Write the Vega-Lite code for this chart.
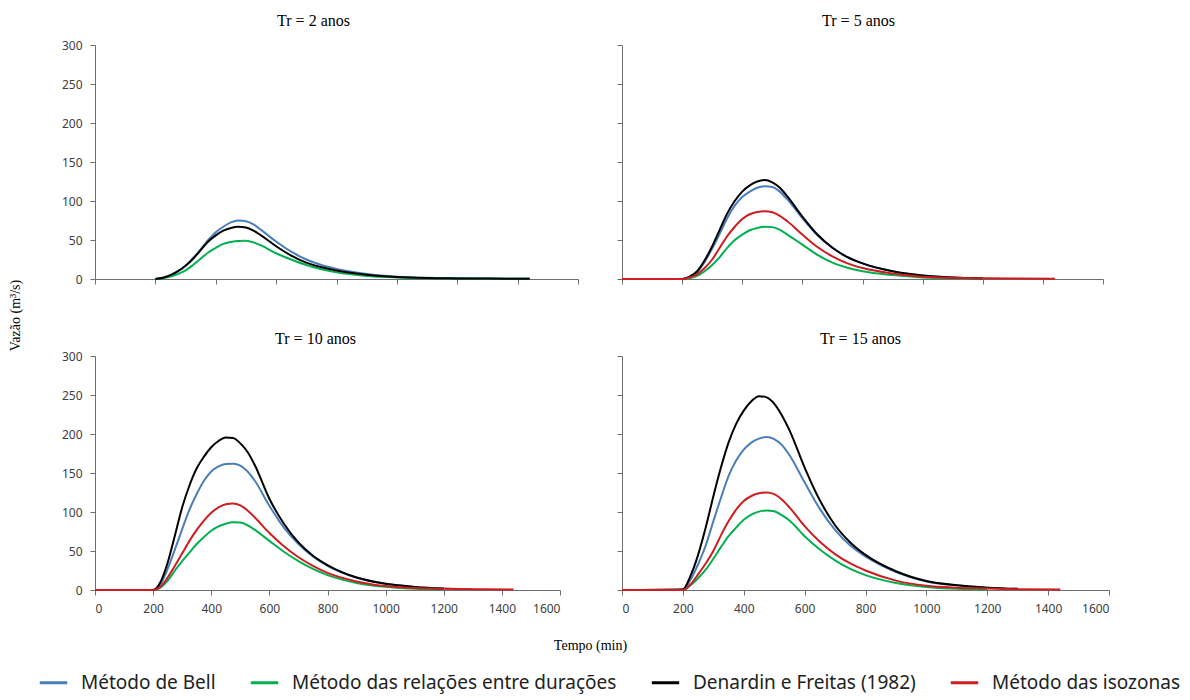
{
  "$schema": "https://vega.github.io/schema/vega-lite/v6.json",
  "background": "white",
  "padding": {"left": 8, "top": 12, "right": 2, "bottom": 5},
  "bounds": "flush",
  "columns": 2,
  "spacing": {"row": 77, "column": 44},
  "config": {
    "view": {"stroke": null},
    "axis": {"grid": false, "domainColor": "#6f6f6f", "tickColor": "#6f6f6f", "labelFont": "Noto Sans", "labelFontSize": 12, "labelColor": "#404040", "titleFont": "Liberation Serif", "titleFontSize": 14, "titleFontWeight": 400, "titleColor": "#000000", "tickSize": 5, "labelPadding": 8, "format": "d"},
    "title": {"font": "Liberation Serif", "fontSize": 16, "fontWeight": 400, "color": "#000000", "offset": 11},
    "legend": {"orient": "none", "legendX": -57, "legendY": 622, "direction": "horizontal", "symbolType": "stroke", "symbolStrokeWidth": 3, "symbolSize": 750, "labelFont": "Noto Sans", "labelFontSize": 19, "labelColor": "#222222", "labelLimit": 0, "labelOffset": 12, "columnPadding": 28}
  },
  "datasets": {
    "d": [
      {"tr":2,"t":200,"bell":0,"rel":0,"den":0,"iso":null},
      {"tr":2,"t":225,"bell":1.5,"rel":1,"den":1.5,"iso":null},
      {"tr":2,"t":250,"bell":5,"rel":3,"den":5,"iso":null},
      {"tr":2,"t":275,"bell":10,"rel":6.5,"den":10,"iso":null},
      {"tr":2,"t":300,"bell":17,"rel":11,"den":17,"iso":null},
      {"tr":2,"t":325,"bell":27,"rel":18,"den":26,"iso":null},
      {"tr":2,"t":350,"bell":38,"rel":26,"den":37,"iso":null},
      {"tr":2,"t":375,"bell":50,"rel":34,"den":48,"iso":null},
      {"tr":2,"t":400,"bell":60,"rel":40,"den":56,"iso":null},
      {"tr":2,"t":425,"bell":67,"rel":45,"den":62,"iso":null},
      {"tr":2,"t":450,"bell":72.5,"rel":47.5,"den":65.5,"iso":null},
      {"tr":2,"t":475,"bell":75,"rel":48.8,"den":67,"iso":null},
      {"tr":2,"t":500,"bell":74,"rel":49,"den":66,"iso":null},
      {"tr":2,"t":525,"bell":70,"rel":47,"den":62,"iso":null},
      {"tr":2,"t":550,"bell":63,"rel":43,"den":56,"iso":null},
      {"tr":2,"t":600,"bell":48,"rel":33,"den":42,"iso":null},
      {"tr":2,"t":650,"bell":35,"rel":25,"den":30,"iso":null},
      {"tr":2,"t":700,"bell":25,"rel":18,"den":21,"iso":null},
      {"tr":2,"t":750,"bell":18,"rel":12.5,"den":15,"iso":null},
      {"tr":2,"t":800,"bell":13,"rel":8.5,"den":11,"iso":null},
      {"tr":2,"t":900,"bell":6.5,"rel":4,"den":5.5,"iso":null},
      {"tr":2,"t":1000,"bell":3,"rel":2,"den":2.5,"iso":null},
      {"tr":2,"t":1100,"bell":1.5,"rel":1,"den":1.2,"iso":null},
      {"tr":2,"t":1200,"bell":1,"rel":0.6,"den":0.8,"iso":null},
      {"tr":2,"t":1300,"bell":0.6,"rel":0.3,"den":0.5,"iso":null},
      {"tr":2,"t":1440,"bell":0.4,"rel":0.2,"den":0.3,"iso":null},

      {"tr":5,"t":0,"bell":0,"rel":0,"den":0,"iso":0},
      {"tr":5,"t":200,"bell":0,"rel":0,"den":0,"iso":0},
      {"tr":5,"t":225,"bell":3,"rel":1,"den":3,"iso":2},
      {"tr":5,"t":250,"bell":9,"rel":4,"den":10,"iso":6},
      {"tr":5,"t":275,"bell":22,"rel":10,"den":24,"iso":14},
      {"tr":5,"t":300,"bell":39,"rel":18,"den":42,"iso":25},
      {"tr":5,"t":325,"bell":58,"rel":28,"den":63,"iso":40},
      {"tr":5,"t":350,"bell":78,"rel":40,"den":84,"iso":55},
      {"tr":5,"t":375,"bell":94,"rel":50,"den":100,"iso":67},
      {"tr":5,"t":400,"bell":105,"rel":57,"den":112,"iso":77},
      {"tr":5,"t":425,"bell":112,"rel":62.5,"den":120,"iso":83},
      {"tr":5,"t":450,"bell":117,"rel":65.5,"den":125,"iso":86},
      {"tr":5,"t":475,"bell":119,"rel":67,"den":127,"iso":87},
      {"tr":5,"t":500,"bell":118,"rel":66.5,"den":124,"iso":85.5},
      {"tr":5,"t":525,"bell":112,"rel":63,"den":117,"iso":81},
      {"tr":5,"t":550,"bell":102,"rel":57,"den":106,"iso":74},
      {"tr":5,"t":600,"bell":78,"rel":44,"den":80,"iso":57},
      {"tr":5,"t":650,"bell":56,"rel":31,"den":57,"iso":41},
      {"tr":5,"t":700,"bell":40,"rel":21,"den":40,"iso":29},
      {"tr":5,"t":750,"bell":28,"rel":14.5,"den":28,"iso":20},
      {"tr":5,"t":800,"bell":20,"rel":10,"den":20,"iso":14},
      {"tr":5,"t":900,"bell":10,"rel":5,"den":10,"iso":7},
      {"tr":5,"t":1000,"bell":4.5,"rel":2,"den":4.5,"iso":3},
      {"tr":5,"t":1100,"bell":2,"rel":1,"den":2,"iso":1.5},
      {"tr":5,"t":1200,"bell":1,"rel":0.5,"den":1,"iso":1},
      {"tr":5,"t":1300,"bell":null,"rel":null,"den":null,"iso":0.6},
      {"tr":5,"t":1440,"bell":null,"rel":null,"den":null,"iso":0.4},

      {"tr":10,"t":0,"bell":0,"rel":0,"den":0,"iso":0},
      {"tr":10,"t":200,"bell":0,"rel":0,"den":0,"iso":0},
      {"tr":10,"t":225,"bell":7,"rel":3,"den":10,"iso":4},
      {"tr":10,"t":250,"bell":27,"rel":12,"den":35,"iso":16},
      {"tr":10,"t":275,"bell":52,"rel":25,"den":70,"iso":31},
      {"tr":10,"t":300,"bell":78,"rel":37,"den":106,"iso":47},
      {"tr":10,"t":325,"bell":103,"rel":48,"den":134,"iso":63},
      {"tr":10,"t":350,"bell":123,"rel":59,"den":156,"iso":77},
      {"tr":10,"t":375,"bell":140,"rel":68,"den":171,"iso":89},
      {"tr":10,"t":400,"bell":152,"rel":76,"den":183,"iso":99},
      {"tr":10,"t":425,"bell":158.5,"rel":81.5,"den":191,"iso":106},
      {"tr":10,"t":450,"bell":161.5,"rel":85,"den":195.5,"iso":110},
      {"tr":10,"t":475,"bell":162,"rel":87,"den":195,"iso":111},
      {"tr":10,"t":500,"bell":159.5,"rel":86.5,"den":188,"iso":108.5},
      {"tr":10,"t":525,"bell":152,"rel":83,"den":177,"iso":102},
      {"tr":10,"t":550,"bell":140,"rel":77,"den":160,"iso":93},
      {"tr":10,"t":600,"bell":108,"rel":63,"den":117,"iso":73},
      {"tr":10,"t":650,"bell":80,"rel":49,"den":85,"iso":56},
      {"tr":10,"t":700,"bell":59,"rel":37,"den":61,"iso":42},
      {"tr":10,"t":750,"bell":43,"rel":27,"den":44,"iso":31},
      {"tr":10,"t":800,"bell":31,"rel":19,"den":32,"iso":22},
      {"tr":10,"t":900,"bell":16,"rel":9,"den":16,"iso":11},
      {"tr":10,"t":1000,"bell":8,"rel":4,"den":8,"iso":5},
      {"tr":10,"t":1100,"bell":4,"rel":1.5,"den":4,"iso":2.5},
      {"tr":10,"t":1200,"bell":2,"rel":0.8,"den":2,"iso":1.5},
      {"tr":10,"t":1300,"bell":1,"rel":null,"den":null,"iso":1},
      {"tr":10,"t":1440,"bell":null,"rel":null,"den":null,"iso":0.5},

      {"tr":15,"t":0,"bell":0,"rel":0,"den":0,"iso":0},
      {"tr":15,"t":200,"bell":0,"rel":0,"den":1,"iso":0},
      {"tr":15,"t":225,"bell":13,"rel":6,"den":18,"iso":7},
      {"tr":15,"t":250,"bell":33,"rel":15,"den":45,"iso":20},
      {"tr":15,"t":275,"bell":57,"rel":26,"den":80,"iso":34},
      {"tr":15,"t":300,"bell":88,"rel":40,"den":120,"iso":50},
      {"tr":15,"t":325,"bell":118,"rel":55,"den":157,"iso":70},
      {"tr":15,"t":350,"bell":146,"rel":69,"den":189,"iso":88},
      {"tr":15,"t":375,"bell":166,"rel":80,"den":213,"iso":103},
      {"tr":15,"t":400,"bell":180,"rel":90,"den":230,"iso":114},
      {"tr":15,"t":425,"bell":189,"rel":96.5,"den":242,"iso":120.5},
      {"tr":15,"t":450,"bell":194,"rel":100.5,"den":248.5,"iso":124},
      {"tr":15,"t":475,"bell":196,"rel":102,"den":247,"iso":125},
      {"tr":15,"t":500,"bell":193.5,"rel":101,"den":239,"iso":123},
      {"tr":15,"t":525,"bell":186,"rel":96,"den":224,"iso":116},
      {"tr":15,"t":550,"bell":173,"rel":89,"den":205,"iso":106},
      {"tr":15,"t":600,"bell":138,"rel":69,"den":157,"iso":82},
      {"tr":15,"t":650,"bell":104,"rel":52,"den":115,"iso":62},
      {"tr":15,"t":700,"bell":77,"rel":38,"den":83,"iso":46},
      {"tr":15,"t":750,"bell":57,"rel":27,"den":61,"iso":34},
      {"tr":15,"t":800,"bell":43,"rel":19,"den":45,"iso":25},
      {"tr":15,"t":900,"bell":23,"rel":9,"den":24,"iso":12},
      {"tr":15,"t":1000,"bell":11,"rel":4,"den":11.5,"iso":5.5},
      {"tr":15,"t":1100,"bell":6,"rel":1.5,"den":6,"iso":3},
      {"tr":15,"t":1200,"bell":3,"rel":0.8,"den":3,"iso":2},
      {"tr":15,"t":1300,"bell":1.5,"rel":null,"den":1.5,"iso":1},
      {"tr":15,"t":1440,"bell":null,"rel":null,"den":null,"iso":0.5}
    ],
    "methods": [
      {"key":"bell","name":"Método de Bell"},
      {"key":"rel","name":"Método das relações entre durações"},
      {"key":"den","name":"Denardin e Freitas (1982)"},
      {"key":"iso","name":"Método das isozonas"}
    ]
  },
  "data": {"name": "d"},
  "transform": [
    {"fold": ["bell", "rel", "den", "iso"], "as": ["key", "value"]},
    {"filter": "datum.value != null"},
    {"lookup": "key", "from": {"data": {"name": "methods"}, "key": "key", "fields": ["name"]}}
  ],
  "concat": [
    {
      "width": 483, "height": 234,
      "title": {"text": "Tr = 2 anos", "dx": -23, "offset": 10, "fontWeight": 400},
      "transform": [{"filter": "datum.tr == 2"}],
      "mark": {"type": "line", "interpolate": "monotone", "strokeWidth": 2},
      "encoding": {
        "x": {"field": "t", "type": "quantitative", "scale": {"domain": [0, 1600]}, "axis": {"values": [0,200,400,600,800,1000,1200,1400,1600], "labels": false, "title": null}},
        "y": {"field": "value", "type": "quantitative", "scale": {"domain": [0, 300]}, "axis": {"values": [0,50,100,150,200,250,300], "title": "Vazão (m³/s)", "titleFontWeight": 400, "titleX": -80, "titleY": 270, "titleAngle": -90, "titleAlign": "center", "titleBaseline": "middle"}},
        "color": {"field": "name", "type": "nominal", "scale": {"domain": ["Método de Bell", "Método das relações entre durações", "Denardin e Freitas (1982)", "Método das isozonas"], "range": ["#4A7EBB", "#00B050", "#000000", "#D01C1F"]}, "legend": {"title": null}}
      }
    },
    {
      "width": 481, "height": 234,
      "title": {"text": "Tr = 5 anos", "dx": -4, "offset": 16, "fontWeight": 400},
      "transform": [{"filter": "datum.tr == 5"}],
      "mark": {"type": "line", "interpolate": "monotone", "strokeWidth": 2},
      "encoding": {
        "x": {"field": "t", "type": "quantitative", "scale": {"domain": [0, 1600]}, "axis": {"values": [0,200,400,600,800,1000,1200,1400,1600], "labels": false, "title": null}},
        "y": {"field": "value", "type": "quantitative", "scale": {"domain": [0, 300]}, "axis": {"values": [0,50,100,150,200,250,300], "labels": false, "title": null}},
        "color": {"field": "name", "type": "nominal", "legend": {"title": null}}
      }
    },
    {
      "width": 465, "height": 234,
      "title": {"text": "Tr = 10 anos", "dx": -12, "offset": 3, "fontWeight": 400},
      "transform": [{"filter": "datum.tr == 10"}],
      "mark": {"type": "line", "interpolate": "monotone", "strokeWidth": 2},
      "encoding": {
        "x": {"field": "t", "type": "quantitative", "scale": {"domain": [0, 1600]}, "axis": {"values": [0,200,400,600,800,1000,1200,1400,1600], "title": "Tempo (min)", "titleFontWeight": 400, "titleX": 495, "titleY": 55, "titleAlign": "center", "titleBaseline": "middle"}},
        "y": {"field": "value", "type": "quantitative", "scale": {"domain": [0, 300]}, "axis": {"values": [0,50,100,150,200,250,300], "title": null}},
        "color": {"field": "name", "type": "nominal", "legend": {"title": null}}
      }
    },
    {
      "width": 487, "height": 234,
      "title": {"text": "Tr = 15 anos", "dx": -5, "offset": 9, "fontWeight": 400},
      "transform": [{"filter": "datum.tr == 15"}],
      "mark": {"type": "line", "interpolate": "monotone", "strokeWidth": 2},
      "encoding": {
        "x": {"field": "t", "type": "quantitative", "scale": {"domain": [0, 1600]}, "axis": {"values": [0,200,400,600,800,1000,1200,1400,1600], "title": null}},
        "y": {"field": "value", "type": "quantitative", "scale": {"domain": [0, 300]}, "axis": {"values": [0,50,100,150,200,250,300], "labels": false, "title": null}},
        "color": {"field": "name", "type": "nominal", "legend": {"title": null}}
      }
    }
  ]
}
